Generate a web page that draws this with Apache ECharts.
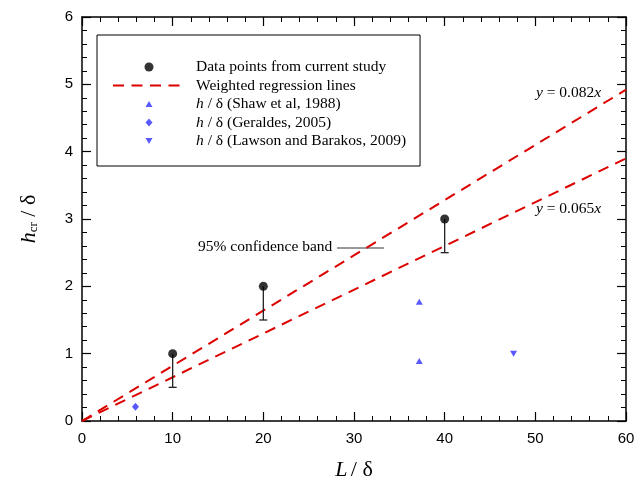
<!DOCTYPE html>
<html><head><meta charset="utf-8">
<script src="https://cdn.jsdelivr.net/npm/echarts@6/dist/echarts.min.js"></script>
<style>html,body{margin:0;padding:0;background:#fff;overflow:hidden}#c{width:644px;height:483px}</style>
</head><body><div id="c"></div>
<script>
// Data
var studyX = [10, 20, 40];
var studyY = [1, 2, 3];
var studyLow = [0.5, 1.5, 2.5];
var shawPts = [[37.2, 1.77], [37.2, 0.89]];
var geraldesPts = [[5.9, 0.21]];
var lawsonPts = [[47.6, 1.0]];
var slopeHigh = 0.082;
var slopeLow = 0.065;
var lineX = [0, 60];

var serif = '"Liberation Serif", "Times New Roman", serif';
var sans = '"Liberation Sans", Arial, Helvetica, sans-serif';
var blue = '#3030ff';
var red = '#dd0000';

var studyData = studyX.map(function (x, i) { return [x, studyY[i]]; });
var errData = studyX.map(function (x, i) { return [x, studyY[i], studyLow[i]]; });
var highLine = lineX.map(function (x) { return [x, slopeHigh * x]; });
var lowLine = lineX.map(function (x) { return [x, slopeLow * x]; });

var FS = 15.5;
var legRich = {
  it: { fontFamily: serif, fontStyle: 'italic', fontSize: FS, color: '#000' },
  n: { fontFamily: serif, fontSize: FS, color: '#000' }
};
var annRich = { it: { fontStyle: 'italic', fontFamily: serif, fontSize: FS } };

// legend icon shapes in a 72x9 box (corner anchors keep the box size)
var box = 'M0,0L0.01,0L0,0.01ZM72,9L71.99,9L72,8.99Z';
var iconTriUp = 'path://' + box + 'M32.5,7.5L39.5,7.5L36,1.5Z';
var iconDiamond = 'path://' + box + 'M36,0.5L39.5,4.5L36,8.5L32.5,4.5Z';
var iconTriDown = 'path://' + box + 'M32.5,1.5L39.5,1.5L36,7.5Z';

var axisCommon = {
  axisLine: { show: true, onZero: false, lineStyle: { color: '#000', width: 1.5 } },
  axisTick: { show: true, inside: true, length: 9, lineStyle: { color: '#000', width: 1.2 } },
  minorTick: { show: true, splitNumber: 5, length: 5, lineStyle: { color: '#000', width: 1 } },
  splitLine: { show: false }
};
function ax(o) { return Object.assign({}, axisCommon, o); }

var chart = echarts.init(document.getElementById('c'));
chart.setOption({
  animation: false,
  backgroundColor: '#fff',
  grid: { left: 82, right: 18, top: 17, bottom: 62, show: false, containLabel: false, outerBoundsMode: 'none' },
  legend: {
    orient: 'vertical',
    left: 97, top: 35,
    padding: [24, 14, 17, 15],
    itemWidth: 72, itemHeight: 9, itemGap: 2.5,
    backgroundColor: '#fff',
    borderColor: '#000', borderWidth: 1,
    textStyle: { fontFamily: serif, fontSize: FS, color: '#000', padding: [0, 0, 0, 6], rich: legRich },
    formatter: function (name) {
      if (name === 'shaw') return '{it|h} {n|/ δ (Shaw et al, 1988)}';
      if (name === 'geraldes') return '{it|h} {n|/ δ (Geraldes, 2005)}';
      if (name === 'lawson') return '{it|h} {n|/ δ (Lawson and Barakos, 2009)}';
      return name;
    },
    data: [
      { name: 'Data points from current study', icon: 'circle' },
      { name: 'Weighted regression lines', itemStyle: { color: 'rgba(0,0,0,0)', borderWidth: 0, opacity: 0 } },
      { name: 'shaw', icon: iconTriUp },
      { name: 'geraldes', icon: iconDiamond },
      { name: 'lawson', icon: iconTriDown }
    ]
  },
  xAxis: [ax({
    type: 'value', min: 0, max: 60, interval: 10,
    name: '{it|L} {n|/ δ}', nameLocation: 'middle', nameGap: 38,
    nameTextStyle: { rich: { it: { fontFamily: serif, fontStyle: 'italic', fontSize: 22, color: '#000' }, n: { fontFamily: serif, fontSize: 22, color: '#000' } } },
    axisLabel: { fontFamily: sans, fontSize: 15, color: '#000', margin: 10 }
  }), ax({
    type: 'value', min: 0, max: 60, interval: 10, position: 'top',
    axisLabel: { show: false }
  })],
  yAxis: [ax({
    type: 'value', min: 0, max: 6, interval: 1,
    name: '{it|h}{sub|cr}{n| / δ}', nameLocation: 'middle', nameGap: 42, nameRotate: 90,
    nameTextStyle: { rich: {
      it: { fontFamily: serif, fontStyle: 'italic', fontSize: 22, color: '#000' },
      sub: { fontFamily: serif, fontSize: 13, color: '#000', verticalAlign: 'bottom' },
      n: { fontFamily: serif, fontSize: 22, color: '#000' } } },
    axisLabel: { fontFamily: sans, fontSize: 15, color: '#000', margin: 9 }
  }), ax({
    type: 'value', min: 0, max: 6, interval: 1, position: 'right',
    axisLabel: { show: false }
  })],
  series: [
    {
      name: 'Weighted regression lines', type: 'line', data: highLine, symbol: 'none',
      lineStyle: { color: red, width: 2, type: [11, 7.5] }, itemStyle: { color: red }, z: 2
    },
    {
      name: 'Weighted regression lines', type: 'line', data: lowLine, symbol: 'none',
      lineStyle: { color: red, width: 2, type: [11, 7.5] }, itemStyle: { color: red }, z: 2
    },
    {
      name: 'errbars', type: 'custom', data: errData, z: 3,
      renderItem: function (params, api) {
        var x = api.value(0), y = api.value(1), lo = api.value(2);
        var p1 = api.coord([x, y]);
        var p2 = api.coord([x, lo]);
        return {
          type: 'group',
          children: [
            { type: 'line', shape: { x1: p1[0], y1: p1[1], x2: p2[0], y2: p2[1] }, style: { stroke: '#222', lineWidth: 1.3 } },
            { type: 'line', shape: { x1: p2[0] - 4, y1: p2[1], x2: p2[0] + 4, y2: p2[1] }, style: { stroke: '#222', lineWidth: 1.3 } }
          ]
        };
      }
    },
    {
      name: 'Data points from current study', type: 'scatter', data: studyData,
      symbol: 'circle', symbolSize: 9, itemStyle: { color: '#000' }, z: 4
    },
    {
      name: 'shaw', type: 'scatter', data: shawPts,
      symbol: 'triangle', symbolSize: [7, 6], itemStyle: { color: blue }, z: 4
    },
    {
      name: 'geraldes', type: 'scatter', data: geraldesPts,
      symbol: 'diamond', symbolSize: [7, 8], itemStyle: { color: blue }, z: 4
    },
    {
      name: 'lawson', type: 'scatter', data: lawsonPts,
      symbol: 'triangle', symbolRotate: 180, symbolSize: [7, 6], itemStyle: { color: blue }, z: 4
    }
  ],
  graphic: [
    { type: 'text', left: 536, top: 85, style: { text: '{it|y} = 0.082{it|x}', rich: annRich, fontFamily: serif, fontSize: FS, fill: '#000' } },
    { type: 'text', left: 536, top: 201, style: { text: '{it|y} = 0.065{it|x}', rich: annRich, fontFamily: serif, fontSize: FS, fill: '#000' } },
    { type: 'text', left: 198, top: 239, style: { text: '95% confidence band', fontFamily: serif, fontSize: FS, fill: '#000' } },
    { type: 'line', shape: { x1: 337, y1: 248, x2: 384, y2: 248 }, style: { stroke: '#333', lineWidth: 1 } }
  ]
});
</script></body></html>
